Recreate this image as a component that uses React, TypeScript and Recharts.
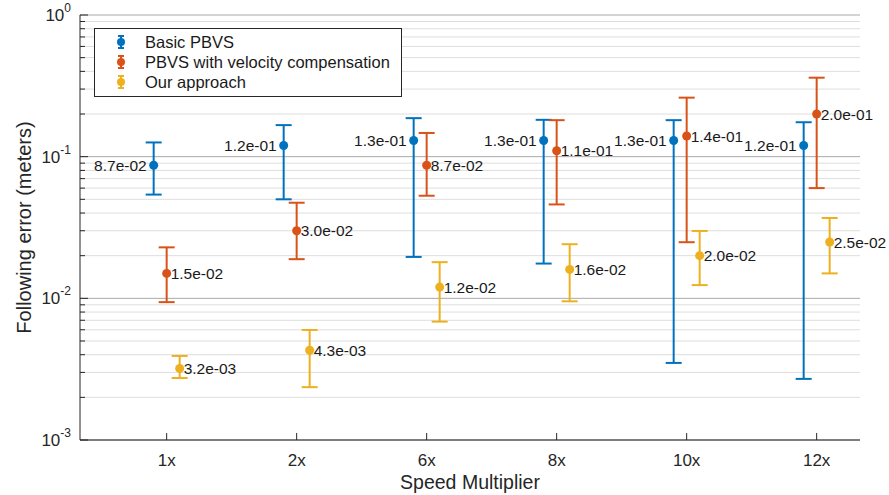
import React from "react";
import {
  ComposedChart,
  Scatter,
  ErrorBar,
  XAxis,
  YAxis,
  CartesianGrid,
  Legend,
} from "recharts";

const categories = ["1x", "2x", "6x", "8x", "10x", "12x"];

// mean following error and its min / max, per speed multiplier
const basicMean = [0.087, 0.12, 0.13, 0.13, 0.13, 0.12];
const basicLow = [0.054, 0.05, 0.0196, 0.0176, 0.0035, 0.0027];
const basicHigh = [0.126, 0.167, 0.187, 0.182, 0.181, 0.175];

const velMean = [0.015, 0.03, 0.087, 0.11, 0.14, 0.2];
const velLow = [0.0094, 0.0189, 0.053, 0.046, 0.0249, 0.06];
const velHigh = [0.0229, 0.0473, 0.147, 0.181, 0.261, 0.361];

const oursMean = [0.0032, 0.0043, 0.012, 0.016, 0.02, 0.025];
const oursLow = [0.00274, 0.00236, 0.00685, 0.00953, 0.0124, 0.015];
const oursHigh = [0.00392, 0.00598, 0.018, 0.0241, 0.0299, 0.0369];

const majorTicks = [0.001, 0.01, 0.1, 1];
const minorSteps = [2, 3, 4, 5, 6, 7, 8, 9];

const FONT = '"Liberation Sans", Arial, Helvetica, sans-serif';
const AXIS = "#262626";

const minorTicks = majorTicks
  .slice(0, -1)
  .flatMap((d) => minorSteps.map((m) => +(d * m).toPrecision(3)));

const series = [
  { name: "Basic PBVS", color: "#0072BD", mean: basicMean, low: basicLow, high: basicHigh, shift: -0.1, side: "left" },
  { name: "PBVS with velocity compensation", color: "#D95319", mean: velMean, low: velLow, high: velHigh, shift: 0, side: "right" },
  { name: "Our approach", color: "#EDB120", mean: oursMean, low: oursLow, high: oursHigh, shift: 0.1, side: "right" },
];

const rows = (s: (typeof series)[number]) =>
  s.mean.map((m, i) => ({
    x: i + 1 + s.shift,
    y: m,
    err: [m - s.low[i], s.high[i] - m],
  }));

// 0.087 -> "8.7e-02"
const fmt = (v: number) => {
  const [mant, exp] = v.toExponential(1).split("e");
  const e = Number(exp);
  return `${mant}e${e < 0 ? "-" : "+"}${String(Math.abs(e)).padStart(2, "0")}`;
};

const makeShape = (color: string, side: string) => (props: any) => {
  const { cx, cy, payload } = props;
  const left = side === "left";
  return (
    <g>
      <circle cx={cx} cy={cy} r={4.5} fill={color} />
      <text
        x={left ? cx - 7 : cx + 4}
        y={cy}
        dy="0.36em"
        textAnchor={left ? "end" : "start"}
        fontSize={15.5}
        fontFamily={FONT}
        fill="#1a1a1a"
      >
        {fmt(payload.y)}
      </text>
    </g>
  );
};

const YTick = (props: any) => {
  const { x, y, payload } = props;
  const v = payload.value;
  const major = majorTicks.includes(v);
  return (
    <g>
      <line x1={x} y1={y} x2={x + (major ? 8 : 5)} y2={y} stroke={AXIS} />
      {major && (
        <text x={x - 9} y={y + 6} textAnchor="end" fontFamily={FONT} fill={AXIS}>
          <tspan fontSize={17}>10</tspan>
          <tspan fontSize={12} dy={-9}>
            {Math.round(Math.log10(v))}
          </tspan>
        </text>
      )}
    </g>
  );
};

const XTick = (props: any) => {
  const { x, y, payload } = props;
  return (
    <g>
      <line x1={x} y1={y} x2={x} y2={y - 7} stroke={AXIS} />
      <text x={x} y={y + 26} textAnchor="middle" fontSize={17} fontFamily={FONT} fill={AXIS}>
        {categories[payload.value - 1]}
      </text>
    </g>
  );
};

const LegendBox = () => (
  <div
    style={{
      border: `1px solid ${AXIS}`,
      background: "#fff",
      width: 306,
      height: 64,
      paddingTop: 3,
      boxSizing: "content-box",
      fontFamily: FONT,
      fontSize: 16.5,
      color: "#1a1a1a",
    }}
  >
    {series.map((s) => (
      <div key={s.name} style={{ display: "flex", alignItems: "center", height: 20 }}>
        <svg width={50} height={20}>
          <line x1={26} y1={4} x2={26} y2={16} stroke={s.color} strokeWidth={2} />
          <line x1={23} y1={4} x2={29} y2={4} stroke={s.color} strokeWidth={2} />
          <line x1={23} y1={16} x2={29} y2={16} stroke={s.color} strokeWidth={2} />
          <circle cx={26} cy={10} r={4} fill={s.color} />
        </svg>
        <span>{s.name}</span>
      </div>
    ))}
  </div>
);

export default function App() {
  return (
    <div style={{ position: "absolute", left: 0, top: 0, background: "#fff" }}>
      <ComposedChart width={889} height={495} margin={{ top: 15, right: 29, bottom: 0, left: 0 }}>
        <CartesianGrid vertical={false} horizontalValues={minorTicks} stroke="#dedede" />
        <CartesianGrid vertical={false} horizontalValues={majorTicks} stroke="#a9a9a9" />
        <XAxis
          type="number"
          dataKey="x"
          domain={[1 / 3, 19 / 3]}
          ticks={[1, 2, 3, 4, 5, 6]}
          interval={0}
          height={55}
          tickSize={0}
          tickMargin={0}
          tick={<XTick />}
          stroke={AXIS}
          label={{
            content: (p: any) => (
              <text
                x={p.viewBox.x + p.viewBox.width / 2}
                y={p.viewBox.y + 49}
                textAnchor="middle"
                fontSize={19.5}
                fontFamily={FONT}
                fill={AXIS}
              >
                Speed Multiplier
              </text>
            ),
          }}
        />
        <YAxis
          type="number"
          dataKey="y"
          scale="log"
          domain={[0.001, 1]}
          ticks={[...majorTicks, ...minorTicks]}
          interval={0}
          width={80}
          tickSize={0}
          tickMargin={0}
          tick={<YTick />}
          stroke={AXIS}
          label={{
            content: (p: any) => {
              const cx = p.viewBox.x + 24;
              const cy = p.viewBox.y + p.viewBox.height / 2;
              return (
                <text
                  x={cx}
                  y={cy}
                  transform={`rotate(-90 ${cx} ${cy})`}
                  textAnchor="middle"
                  dominantBaseline="central"
                  fontSize={20}
                  fontFamily={FONT}
                  fill={AXIS}
                >
                  Following error (meters)
                </text>
              );
            },
          }}
        />
        <Legend
          layout="vertical"
          align="center"
          verticalAlign="middle"
          content={<LegendBox />}
          wrapperStyle={{ position: "absolute", left: 94, top: 28, width: "auto" }}
        />
        {series.map((s) => (
          <Scatter
            key={s.name}
            name={s.name}
            data={rows(s)}
            fill={s.color}
            shape={makeShape(s.color, s.side)}
            isAnimationActive={false}
          >
            <ErrorBar dataKey="err" direction="y" width={8} strokeWidth={2} stroke={s.color} />
          </Scatter>
        ))}
      </ComposedChart>
    </div>
  );
}
